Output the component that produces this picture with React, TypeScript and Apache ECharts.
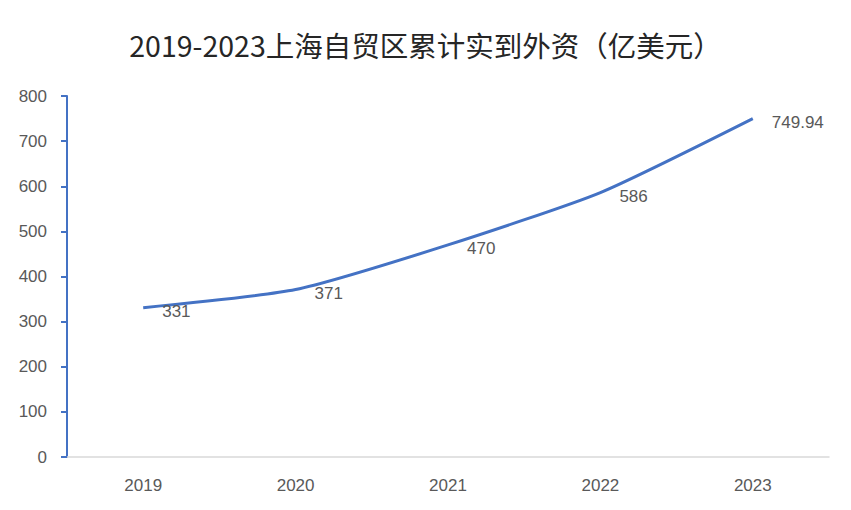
import React, { useEffect, useRef } from "react";
import * as echarts from "echarts";

const categories = ["2019", "2020", "2021", "2022", "2023"];
const values = [331, 371, 470, 586, 749.94];
const titleText = "2019-2023上海自贸区累计实到外资（亿美元）";

export default function App() {
  const ref = useRef<HTMLDivElement>(null);
  useEffect(() => {
    const chart = echarts.init(ref.current!, undefined, { renderer: "svg" });
    chart.setOption({
      animation: false,
      backgroundColor: "#ffffff",
      title: {
        text: titleText,
        left: "center",
        top: 17,
        textStyle: {
          fontFamily: "Noto Sans CJK SC",
          fontSize: 28.5,
          fontWeight: "normal",
          color: "#262626",
        },
      },
      grid: { left: 59, right: 14, top: 88, bottom: 45 },
      xAxis: {
        type: "category",
        data: categories,
        boundaryGap: true,
        axisLine: { lineStyle: { color: "#d9d9d9", width: 1.5 } },
        axisTick: { show: false },
        axisLabel: {
          color: "#595959",
          fontSize: 17,
          fontFamily: "Liberation Sans",
          margin: 20,
        },
      },
      yAxis: {
        type: "value",
        min: 0,
        max: 800,
        interval: 100,
        axisLine: { show: true, lineStyle: { color: "#4472C4", width: 2 } },
        axisTick: { show: true, length: 6, lineStyle: { color: "#4472C4", width: 2 } },
        splitLine: { show: false },
        axisLabel: {
          color: "#595959",
          fontSize: 17,
          fontFamily: "Liberation Sans",
          margin: 20,
        },
      },
      series: [
        {
          type: "line",
          data: values,
          smooth: 0.2,
          symbol: "circle",
          symbolSize: 2,
          showSymbol: true,
          itemStyle: { color: "rgba(68,114,196,0)", borderWidth: 0 },
          lineStyle: { color: "#4472C4", width: 3 },
          label: {
            show: true,
            position: "right",
            distance: 18,
            offset: [0, 4],
            color: "#595959",
            fontSize: 17,
            fontFamily: "Liberation Sans",
          },
        },
      ],
    });
    return () => chart.dispose();
  }, []);
  return <div ref={ref} style={{ width: 835, height: 494 }} />;
}
